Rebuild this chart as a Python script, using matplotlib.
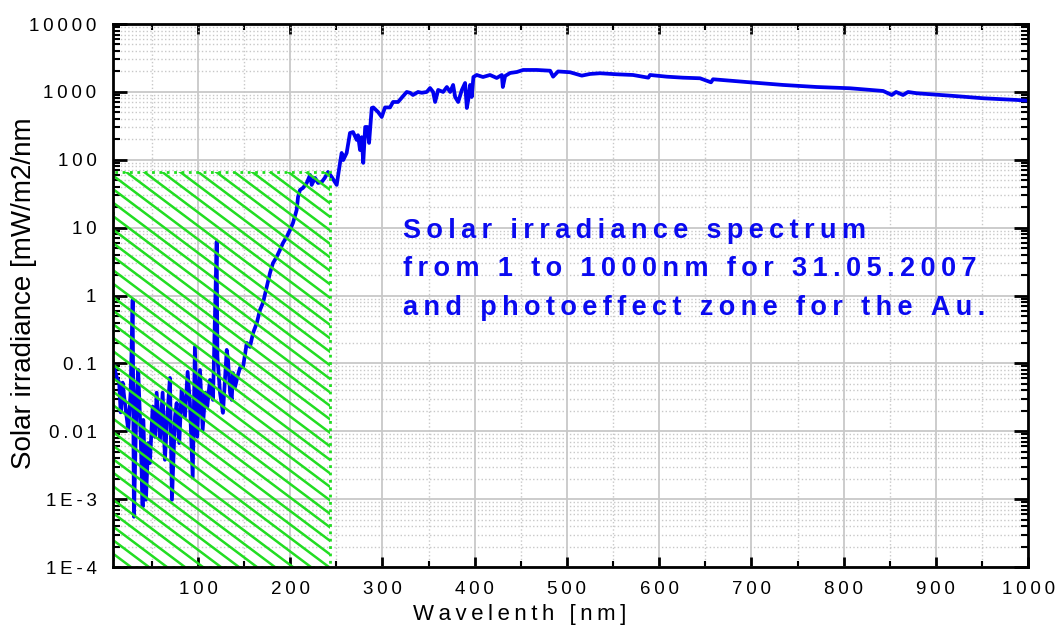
import matplotlib
matplotlib.use('Agg')
import matplotlib.pyplot as plt
import numpy as np
from matplotlib.ticker import LogLocator, NullFormatter, FixedLocator
from matplotlib.patches import Rectangle
from matplotlib.collections import LineCollection

plt.rcParams['font.family'] = ['Liberation Sans', 'DejaVu Sans']

# spectrum: wavelength [nm] and irradiance [mW/m2/nm]
wl = [8.9, 11.8, 14.6, 16.2, 18.3, 20.8, 24.4, 27.0, 29.2, 30.6, 33.5, 35.2, 37.9, 40.0, 40.7,
      43.6, 46.1, 47.9, 50.9, 53.4, 55.2, 58.8, 61.7, 64.2, 66.7, 69.6, 71.8, 75.1, 76.9, 79.7,
      82.3, 85.9, 88.8, 91.3, 94.3, 96.7, 99.2, 102.2, 105.1, 107.9, 110.1, 113.0, 116.3, 120.3,
      121.1, 123.9, 127.1, 131.2, 132.6, 134.8, 136.6, 138.0, 140.2, 143.4, 145.6, 148.9, 152.9,
      156.4, 159.7, 163.7, 167.2, 170.5, 174.5, 178.1, 181.3, 185.3, 188.9, 192.2, 196.2, 199.8,
      203.0, 207.0, 208.5, 210.6, 213.9, 217.9, 221.5, 223.3, 226.9, 230.2, 234.2, 237.5, 241.0,
      245.0, 250.4, 254.0, 255.8, 257.5, 261.2, 264.8, 268.1, 272.1, 273.5, 275.7, 277.5, 279.2,
      281.3, 283.5, 285.5, 288.4, 290.1, 295.2, 299.2, 302.8, 308.2, 311.5, 316.9, 320.7, 326.3,
      329.9, 333.1, 338.6, 342.6, 348.0, 351.6, 354.9, 357.1, 360.4, 365.8, 369.8, 373.4, 376.6,
      378.8, 382.1, 386.1, 389.6, 391.5, 393.0, 395.0, 396.8, 398.6, 402.2, 409.0, 416.6, 423.9,
      429.4, 430.5, 433.0, 438.4, 445.7, 452.5, 467.4, 481.8, 485.0, 490.4, 503.4, 516.1, 525.1,
      535.9, 554.0, 571.6, 588.2, 590.1, 608.2, 625.8, 644.3, 656.2, 658.4, 680.1, 698.5, 734.3,
      770.8, 807.0, 842.8, 852.2, 856.8, 864.4, 869.8, 879.3, 915.5, 951.3, 987.8, 1000.0]
irr = [0.09, 0.063, 0.052, 0.019, 0.052, 0.026, 0.0105, 0.037, 0.86, 0.00055, 0.032, 0.080, 0.0083,
       0.00077, 0.0147, 0.00098, 0.0067, 0.0034, 0.023, 0.0083, 0.037, 0.0075, 0.037, 0.0038,
       0.0163, 0.061, 0.00098, 0.0163, 0.026, 0.0067, 0.041, 0.0163, 0.075, 0.026, 0.0021, 0.175,
       0.0083, 0.080, 0.0105, 0.037, 0.023, 0.057, 0.029, 6.2, 0.125, 0.037, 0.0187, 0.158, 0.113,
       0.037, 0.029, 0.072, 0.045, 0.068, 0.086, 0.088, 0.20, 0.175, 0.28, 0.39, 0.61, 0.78, 1.34,
       2.15, 3.0, 3.7, 4.7, 5.95, 7.3, 9.25, 11.7, 18.2, 28.3, 35.9, 38.5, 45.5, 59.7, 42.6, 54,
       45.5, 47, 54, 66, 55.8, 42.6, 90, 126, 99, 126, 248, 256, 196, 230, 139, 215, 90, 304, 304,
       177, 579, 590, 506, 427, 590, 590, 710, 710, 813, 997, 970, 900, 997, 970, 997, 1140, 997,
       710, 1068, 997, 1180, 997, 1265, 841, 710, 1068, 1352, 579, 760, 1265, 841, 1656, 1774,
       1656, 1774, 1603, 1774, 1180, 1715, 1898, 1963, 2103, 2103, 2050, 1675, 2000, 1946, 1735,
       1837, 1881, 1816, 1774, 1619, 1774, 1675, 1619, 1586, 1383, 1534, 1449, 1383, 1265, 1180,
       1130, 1031, 900, 997, 900, 997, 954, 879, 805, 760, 741]

# photoeffect zone for Au
au_edge = 243
au_top = 66

xticks = list(range(100, 1001, 100))
yticks = [1e-4, 1e-3, 1e-2, 1e-1, 1, 10, 100, 1000, 10000]
ylabels = ['1E-4', '1E-3', '0.01', '0.1', '1', '10', '100', '1000', '10000']

title_lines = ['Solar irradiance spectrum',
               'from 1 to 1000nm for 31.05.2007',
               'and photoeffect zone for the Au.']

green = '#22dd22'


def spread(s, gap='\u2009'):
    # wide letter spacing like the original
    return gap.join(s)


fig = plt.figure(figsize=(10.57, 6.3), dpi=100)
ax = fig.add_axes([0.107, 0.1, 0.8657, 0.8619])

xmin, xmax = 8, 1000
ax.set_yscale('log')
ax.set_xlim(xmin, xmax)
ax.set_ylim(1e-4, 1e4)

ax.plot(wl, irr, color='#0000f0', lw=2.7, zorder=2)

# photoeffect zone: dotted frame + slanted hatch lines clipped to it
zone = Rectangle((xmin, 1e-4), au_edge - xmin, au_top - 1e-4, facecolor='none',
                 edgecolor=green, linestyle=':', linewidth=2, zorder=3)
ax.add_patch(zone)
bbox = ax.get_position()
wpx = bbox.width * fig.get_figwidth() * fig.dpi
hpx = bbox.height * fig.get_figheight() * fig.dpi
hatch_slope = 0.75   # pixel slope of the hatch lines
hatch_gap = 18       # horizontal pixel spacing
slope = hatch_slope * wpx / hpx
step = hatch_gap * hatch_slope / hpx
segs = [[(0, c), (0.4, c - slope * 0.4)] for c in np.arange(-0.05, 1.4, step)]
hatch = LineCollection(segs, colors=green, linewidths=1.8, transform=ax.transAxes, zorder=3)
ax.add_collection(hatch)
hatch.set_clip_path(zone)

ax.set_xticks(xticks)
ax.set_xticklabels([spread(str(t)) for t in xticks])
ax.xaxis.set_minor_locator(FixedLocator(list(range(50, 1000, 100))))
ax.set_yticks(yticks)
ax.set_yticklabels([spread(t) for t in ylabels])
ax.yaxis.set_minor_locator(LogLocator(base=10, subs=np.arange(2, 10), numticks=20))
ax.yaxis.set_minor_formatter(NullFormatter())

ax.tick_params(which='both', direction='in', top=True, right=True, colors='black')
ax.tick_params(axis='y', which='major', length=10, width=2, pad=12, labelsize=13.5)
ax.tick_params(axis='y', which='minor', length=5, width=1.5)
ax.tick_params(axis='x', which='major', length=7, width=2, pad=10, labelsize=13.5)
ax.tick_params(axis='x', which='minor', length=4.5, width=1.5)
for sp in ax.spines.values():
    sp.set_linewidth(2)
    sp.set_zorder(5)

ax.set_axisbelow(True)
ax.grid(which='major', color='#c8c8c8', lw=1.3)
ax.grid(which='minor', color='#c8c8c8', ls=':', lw=1)

ax.set_xlabel(spread('Wavelenth [nm]'), fontsize=16)
ax.xaxis.set_label_coords(0.444, -0.068)
ax.set_ylabel('Solar irradiance [mW/m2/nm', fontsize=20)
ax.yaxis.set_label_coords(-0.083, 0.505)

ax.text(0.317, 0.643, '\n'.join(spread(l) for l in title_lines),
        transform=ax.transAxes, color='#0a0af0', fontsize=19.5, fontweight='bold',
        va='top', ha='left', linespacing=1.63, zorder=4)

fig.savefig('out.png', dpi=100)
